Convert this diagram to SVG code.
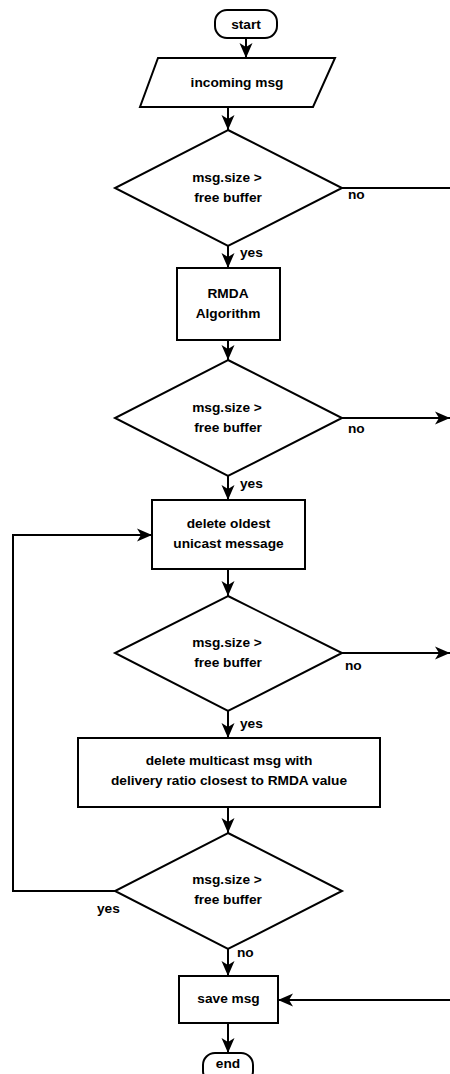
<svg xmlns="http://www.w3.org/2000/svg" width="450" height="1074" viewBox="0 0 450 1074">
<style>
.s{fill:#fff;stroke:#000;stroke-width:2}
.t{font-family:"Liberation Sans",Arial,Helvetica,sans-serif;font-weight:bold;font-size:13.7px;fill:#000;text-anchor:middle}
.l{font-family:"Liberation Sans",Arial,Helvetica,sans-serif;font-weight:bold;font-size:13.7px;fill:#000}
.c{fill:none;stroke:#000;stroke-width:2}
</style>
<defs>
<marker id="a" markerUnits="userSpaceOnUse" markerWidth="16" markerHeight="16" viewBox="0 -8 16 16" refX="15" refY="0" orient="auto">
<path d="M0,-6.5 L15,0 L0,6.5 L4,0 Z" fill="#000"/>
</marker>
</defs>
<rect width="450" height="1074" fill="#fff"/>
<g id="connectors">
<path class="c" d="M246,38 V58" marker-end="url(#a)"/>
<path class="c" d="M228,107 V130" marker-end="url(#a)"/>
<path class="c" d="M342,188 H452"/>
<path class="c" d="M228,246 V268" marker-end="url(#a)"/>
<path class="c" d="M228,340 V360" marker-end="url(#a)"/>
<path class="c" d="M342,418 H450" marker-end="url(#a)"/>
<path class="c" d="M228,476 V500" marker-end="url(#a)"/>
<path class="c" d="M228,569 V596" marker-end="url(#a)"/>
<path class="c" d="M342,653 H450" marker-end="url(#a)"/>
<path class="c" d="M228,711 V738" marker-end="url(#a)"/>
<path class="c" d="M228,807 V833" marker-end="url(#a)"/>
<path class="c" d="M115,891 H13 V535 H152" marker-end="url(#a)"/>
<path class="c" d="M228,949 V976" marker-end="url(#a)"/>
<path class="c" d="M452,1000 H278" marker-end="url(#a)"/>
<path class="c" d="M228,1023 V1053" marker-end="url(#a)"/>
<text class="l" x="348" y="199">no</text>
<text class="l" x="240" y="257">yes</text>
<text class="l" x="348" y="433">no</text>
<text class="l" x="240" y="488">yes</text>
<text class="l" x="345" y="670">no</text>
<text class="l" x="240" y="728">yes</text>
<text class="l" x="97" y="913">yes</text>
<text class="l" x="237" y="957">no</text>
</g>
<g id="start">
<rect class="s" x="215" y="10" width="62" height="28" rx="12"/>
<text class="t" x="246" y="29">start</text>
</g>
<g id="incoming">
<polygon class="s" points="158,58 335,58 313,107 140,107"/>
<text class="t" x="237" y="87">incoming msg</text>
</g>
<g id="decision1">
<polygon class="s" points="228,130 342,188 228,246 115,188"/>
<text class="t" x="227" y="182">msg.size &gt;</text>
<text class="t" x="228" y="202">free buffer</text>
</g>
<g id="rmda">
<rect class="s" x="177" y="268" width="103" height="72"/>
<text class="t" x="228" y="298">RMDA</text>
<text class="t" x="228" y="318">Algorithm</text>
</g>
<g id="decision2">
<polygon class="s" points="228,360 342,418 228,476 115,418"/>
<text class="t" x="227" y="412">msg.size &gt;</text>
<text class="t" x="228" y="432">free buffer</text>
</g>
<g id="deleteOldest">
<rect class="s" x="152" y="500" width="153" height="69"/>
<text class="t" x="228.5" y="528">delete oldest</text>
<text class="t" x="228.5" y="548">unicast message</text>
</g>
<g id="decision3">
<polygon class="s" points="228,596 342,653 228,711 115,653"/>
<text class="t" x="227" y="647">msg.size &gt;</text>
<text class="t" x="228" y="667">free buffer</text>
</g>
<g id="deleteMulticast">
<rect class="s" x="78" y="738" width="302" height="69"/>
<text class="t" x="229" y="765">delete multicast msg with</text>
<text class="t" x="229" y="785">delivery ratio closest to RMDA value</text>
</g>
<g id="decision4">
<polygon class="s" points="228,833 342,891 228,949 115,891"/>
<text class="t" x="227" y="884">msg.size &gt;</text>
<text class="t" x="228" y="904">free buffer</text>
</g>
<g id="save">
<rect class="s" x="179" y="976" width="99" height="47"/>
<text class="t" x="228.5" y="1003">save msg</text>
</g>
<g id="end">
<rect class="s" x="203" y="1053" width="50" height="30" rx="12"/>
<text class="t" x="228" y="1068">end</text>
</g>
</svg>
